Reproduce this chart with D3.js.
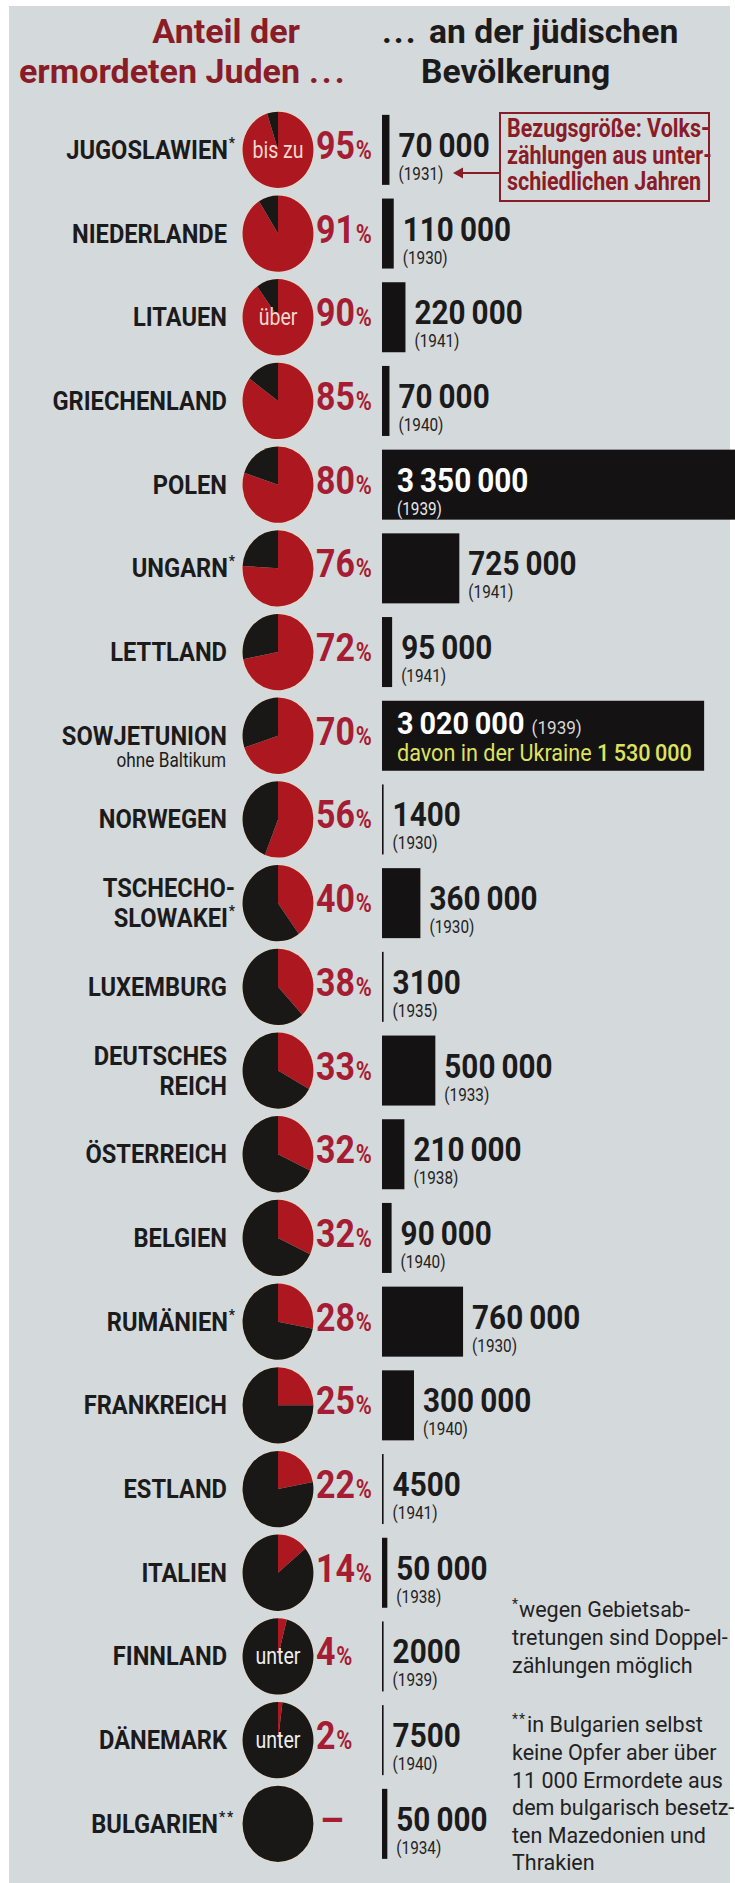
<!DOCTYPE html>
<html><head><meta charset="utf-8">
<script src="https://cdn.jsdelivr.net/npm/d3@7"></script>
<style>
html,body{margin:0;padding:0;background:#fff;}
svg{display:block;}
text{font-family:Roboto,"Noto Sans","DejaVu Sans",sans-serif;}
</style></head><body>
<svg id="chart" width="735" height="1883"></svg>
<script>
// ---------- data ----------
const countries = ["JUGOSLAWIEN","NIEDERLANDE","LITAUEN","GRIECHENLAND","POLEN","UNGARN","LETTLAND","SOWJETUNION","NORWEGEN","TSCHECHO-|SLOWAKEI","LUXEMBURG","DEUTSCHES|REICH","ÖSTERREICH","BELGIEN","RUMÄNIEN","FRANKREICH","ESTLAND","ITALIEN","FINNLAND","DÄNEMARK","BULGARIEN"];
const footnoteMarks = ["*","","","","","*","","","","*","","","","","*","","","","","","**"];
const subLabels = ["","","","","","","","ohne Baltikum","","","","","","","","","","","","",""];
const murderedShare = [95,91,90,85,80,76,72,70,56,40,38,33,32,32,28,25,22,14,4,2,null];
const shareQualifier = ["bis zu","","über","","","","","","","","","","","","","","","","unter","unter",""];
const jewishPopulation = [70000,110000,220000,70000,3350000,725000,95000,3020000,1400,360000,3100,500000,210000,90000,760000,300000,4500,50000,2000,7500,50000];
const censusYear = [1931,1930,1941,1940,1939,1941,1941,1939,1930,1930,1935,1933,1938,1940,1930,1940,1941,1938,1939,1940,1934];
const ukraineNote = "davon in der Ukraine";
const ukrainePopulation = 1530000;
const titleLeft = ["Anteil der","ermordeten Juden"];
const titleRight = ["an der jüdischen","Bevölkerung"];
const boxLines = ["Bezugsgröße: Volks-","zählungen aus unter-","schiedlichen Jahren"];
const footnote1 = ["wegen Gebietsab-","tretungen sind Doppel-","zählungen möglich"];
const footnote2 = ["in Bulgarien selbst","keine Opfer aber über","11 000 Ermordete aus","dem bulgarisch besetz-","ten Mazedonien und","Thrakien"];

// ---------- style ----------
const RED_PIE = "#ad1820", BLACK = "#1a1717", RED_TXT = "#a61d33", RED_TITLE = "#8a1c27", INK = "#1c1b1b";
const svg = d3.select("#chart");
svg.append("rect").attr("x",9).attr("y",6).attr("width",721).attr("height",1877).attr("fill","#d4d9dc");

const loc = d3.formatLocale({decimal:",",thousands:"\u2009",grouping:[3],currency:["",""]});
const fmtBig = loc.format(",d");
const fmt = v => v >= 10000 ? fmtBig(v) : String(v);

function txt(parent, x, y, s, o) {
  const t = parent.append("text")
    .attr("transform", `translate(${x},${y}) scale(${o.sx||1},1)`)
    .attr("font-size", o.size).attr("font-weight", o.weight||400)
    .attr("fill", o.fill||INK).attr("text-anchor", o.anchor||"start");
  if (o.ls) t.attr("letter-spacing", o.ls);
  if (s != null) t.text(s);
  return t;
}

// ---------- titles ----------
const TS = 34;
txt(svg, 300, 43, titleLeft[0], {size:TS, weight:700, fill:RED_TITLE, anchor:"end", sx:1});
txt(svg, 300, 83, titleLeft[1], {size:TS, weight:700, fill:RED_TITLE, anchor:"end", sx:1});
txt(svg, 309, 83, "...", {size:TS, weight:700, fill:RED_TITLE, ls:3});
txt(svg, 382, 43, "...", {size:TS, weight:700, fill:INK, ls:2});
txt(svg, 429, 43, titleRight[0], {size:TS, weight:700, fill:INK, sx:0.99});
txt(svg, 421, 83, titleRight[1], {size:TS, weight:700, fill:INK, sx:0.99});

// ---------- scales ----------
const y = d3.scaleBand().domain(d3.range(countries.length)).range([108, 108 + 83.7*countries.length]);
const cy = i => y(i) + y.bandwidth()/2;
const x = d3.scaleLinear().domain([0, 3000000]).range([0, 320]);
const X0 = 382, BAR_H = 70, PIE_X = 278, R = 36;

const pie = d3.pie().sort(null).value(d => d);
const arc = d3.arc().innerRadius(0).outerRadius(R);

countries.forEach((name, i) => {
  const c = cy(i);
  const g = svg.append("g");
  // label
  const lines = name.split("|");
  const mark = footnoteMarks[i];
  const ax = mark ? 235 : 227;
  const baseYs = lines.length === 2 ? [c - 6, c + 24] : [c + 9];
  lines.forEach((ln, k) => {
    const t = txt(g, ax, baseYs[k], null, {size:26, weight:700, anchor:"end", sx:0.91});
    t.append("tspan").text(ln);
    if (mark && k === lines.length - 1) {
      t.append("tspan").attr("font-size", 15).attr("dy", -11).attr("dx", 1).attr("letter-spacing", mark.length>1?2:0).text(mark);
    }
  });
  if (subLabels[i]) txt(g, 226, c + 31, subLabels[i], {size:20, anchor:"end", sx:0.86});

  // pie
  const share = murderedShare[i] == null ? 0 : murderedShare[i];
  const pg = g.append("g").attr("transform", `translate(${PIE_X},${c}) scale(0.985,1.06)`);
  pg.append("circle").attr("r", R + 0.8).attr("fill", "#e6dcc6");
  pg.selectAll("path").data(pie([share, 100 - share])).join("path")
    .attr("d", arc).attr("fill", (d, k) => k === 0 ? RED_PIE : BLACK);
  if (shareQualifier[i]) txt(g, PIE_X, c + 8, shareQualifier[i], {size:23, anchor:"middle", sx:0.85, fill: share > 50 ? "#f1d9d2" : "#eeeeee"});

  // percentage
  if (murderedShare[i] != null) {
    const t = txt(g, 316, c + 9, null, {size:39, weight:700, fill:RED_TXT, sx:0.87});
    t.append("tspan").text(murderedShare[i]);
    t.append("tspan").attr("font-size", 25).attr("dx", 1).text("%");
  } else {
    txt(g, 320, c + 9, "–", {size:38, weight:700, fill:RED_TXT});
  }

  // bar
  const w = Math.max(x(jewishPopulation[i]), 1.6);
  g.append("rect").attr("x", X0).attr("y", c - BAR_H/2).attr("width", w).attr("height", BAR_H).attr("fill", "#141212");

  if (w > 300) {
    if (subLabels[i]) {
      const t = txt(g, 397, c - 2, null, {size:32, weight:700, fill:"#ffffff", sx:0.9});
      t.append("tspan").text(fmt(jewishPopulation[i]));
      t.append("tspan").attr("font-size", 19).attr("font-weight", 400).attr("fill", "#d8d8d8").attr("dx", 8).text(`(${censusYear[i]})`);
      const u = txt(g, 397, c + 25, null, {size:24, fill:"#dfe35c", sx:0.9});
      u.append("tspan").text(ukraineNote + " ");
      u.append("tspan").attr("font-weight", 500).text(fmt(ukrainePopulation));
    } else {
      txt(g, 397, c + 7, fmt(jewishPopulation[i]), {size:33, weight:700, fill:"#ffffff", sx:0.9});
      txt(g, 397, c + 30, `(${censusYear[i]})`, {size:18, fill:"#e8e8e8", sx:0.85});
    }
  } else {
    const lx = Math.max(X0 + w + 9, 392);
    txt(g, lx, c + 7, fmt(jewishPopulation[i]), {size:33, weight:700, sx:0.9});
    txt(g, lx, c + 30, `(${censusYear[i]})`, {size:18, fill:"#222", sx:0.85});
  }
});

// ---------- annotation box ----------
svg.append("rect").attr("x", 500).attr("y", 113).attr("width", 209).attr("height", 88)
  .attr("fill", "none").attr("stroke", RED_TITLE).attr("stroke-width", 2);
boxLines.forEach((s, k) => txt(svg, 507, 137 + k*26.5, s, {size:25, weight:700, fill:RED_TITLE, sx:0.86}));
svg.append("line").attr("x1", 500).attr("x2", 460).attr("y1", 173).attr("y2", 173).attr("stroke", RED_TITLE).attr("stroke-width", 2.2);
svg.append("path").attr("d", "M453,173 L463,167.5 L463,178.5 Z").attr("fill", RED_TITLE);

// ---------- footnotes ----------
const FN = 21.5;
const f1 = txt(svg, 512, 1617, null, {size:FN, fill:"#222"});
f1.append("tspan").attr("font-size", 14).attr("dy", -8).text("*");
f1.append("tspan").attr("dy", 8).attr("dx", 1).text(footnote1[0]);
footnote1.slice(1).forEach((s, k) => txt(svg, 512, 1645 + k*27.5, s, {size:FN, fill:"#222"}));
const f2 = txt(svg, 512, 1732, null, {size:FN, fill:"#222"});
f2.append("tspan").attr("font-size", 14).attr("dy", -8).attr("letter-spacing", 1).text("**");
f2.append("tspan").attr("dy", 8).attr("dx", 1).text(footnote2[0]);
footnote2.slice(1).forEach((s, k) => txt(svg, 512, 1760 + k*27.6, s, {size:FN, fill:"#222"}));
</script>
</body></html>
